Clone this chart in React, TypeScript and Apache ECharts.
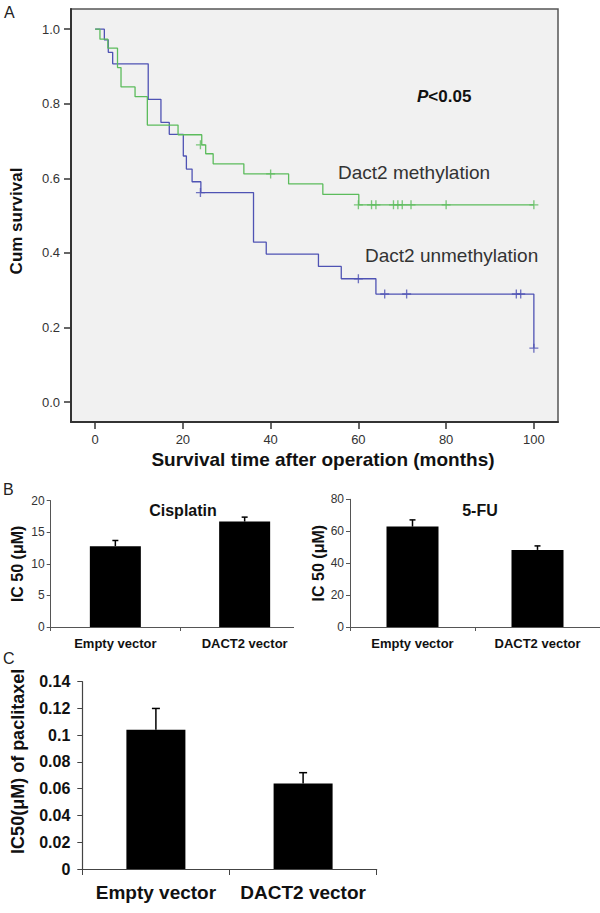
import React, { useEffect, useRef } from "react";
import * as echarts from "echarts";

// ---------- Panel A : Kaplan–Meier ----------
const kmXTicks = [0, 20, 40, 60, 80, 100];
const kmYTicks = [0, 0.2, 0.4, 0.6, 0.8, 1.0];
// step points [month, survival] : drop at month to survival
const methylCurve: [number, number][] = [
  [0, 1.0], [1.1, 0.973], [2.9, 0.949], [5.1, 0.897], [5.9, 0.845], [9.1, 0.819],
  [11.9, 0.743], [18.9, 0.717], [24.3, 0.69], [25.2, 0.666], [26.9, 0.639],
  [33.9, 0.612], [44.1, 0.585], [51.9, 0.557], [60.1, 0.529], [100, 0.529],
];
const unmethylCurve: [number, number][] = [
  [0, 1.0], [2.1, 0.971], [3.0, 0.938], [4.0, 0.907], [12.1, 0.812], [15.0, 0.75],
  [16.9, 0.718], [20.1, 0.66], [20.8, 0.625], [22.1, 0.591], [24.1, 0.562],
  [36.1, 0.429], [39.0, 0.397], [50.9, 0.364], [56.1, 0.331], [64.0, 0.29], [100, 0.145],
];
const methylCensored: [number, number][] = [
  [24, 0.69], [40, 0.612], [60, 0.529], [63, 0.529], [64, 0.529], [68, 0.529],
  [69, 0.529], [70, 0.529], [72, 0.529], [80, 0.529], [100, 0.529],
];
const unmethylCensored: [number, number][] = [
  [24, 0.562], [60, 0.331], [66, 0.29], [71, 0.29], [96, 0.29], [97, 0.29], [100, 0.145],
];

// ---------- Panel B / C : bar charts ----------
const vectorCats = ["Empty vector", "DACT2 vector"];
const cisplatinMean = [12.8, 16.7];
const cisplatinErr = [0.9, 0.7];
const fuMean = [62.9, 48.3];
const fuErr = [4.2, 2.5];
const paclitaxelMean = [0.104, 0.064];
const paclitaxelErr = [0.016, 0.008];

const FONT = '"Liberation Sans", Arial, sans-serif';
const GREEN = "#5cbc5c";
const BLUE = "#4f53b4";
const PLUS =
  "path://M4.25,0h1.5v4.25h4.25v1.5h-4.25v4.25h-1.5v-4.25h-4.25v-1.5h4.25z";

function errorSeries(idx: number, means: number[], errs: number[], cap: number) {
  return {
    type: "custom",
    xAxisIndex: idx,
    yAxisIndex: idx,
    z: 5,
    data: means.map((m, i) => [i, m, errs[i]]),
    encode: { x: 0, y: 1 },
    renderItem: (_p: any, api: any) => {
      const x = api.value(0);
      const m = api.value(1);
      const e = api.value(2);
      const p0 = api.coord([x, m]);
      const p1 = api.coord([x, m + e]);
      const st = { stroke: "#000", lineWidth: 1.5 };
      return {
        type: "group",
        children: [
          { type: "line", shape: { x1: p0[0], y1: p0[1], x2: p1[0], y2: p1[1] }, style: st },
          { type: "line", shape: { x1: p1[0] - cap, y1: p1[1], x2: p1[0] + cap, y2: p1[1] }, style: st },
        ],
      };
    },
  };
}

export default function App() {
  const ref = useRef<HTMLDivElement>(null);
  useEffect(() => {
    const chart = echarts.init(ref.current!, null, { renderer: "svg" });

    const barYAxisBase = (min: number, max: number, interval: number) => ({
      type: "value",
      min,
      max,
      interval,
      splitLine: { show: false },
      axisLine: { show: true, lineStyle: { color: "#555", width: 1 } },
      axisTick: { show: true, length: 4, lineStyle: { color: "#555" } },
    });

    const option: any = {
      animation: false,
      backgroundColor: "#fff",
      textStyle: { fontFamily: FONT },
      title: [
        {
          text: "Cisplatin",
          left: 178,
          top: 497,
          textAlign: "center",
          textStyle: { fontFamily: FONT, fontSize: 16, fontWeight: "bold", color: "#111" },
        },
        {
          text: "5-FU",
          left: 475,
          top: 497,
          textAlign: "center",
          textStyle: { fontFamily: FONT, fontSize: 16, fontWeight: "bold", color: "#111" },
        },
      ],
      grid: [
        {
          left: 69, top: 9, width: 489, height: 413,
          show: true, backgroundColor: "#f1f1f1", borderColor: "#555", borderWidth: 1.5,
        },
        { left: 50.7, top: 500.7, width: 258.6, height: 126.3 },
        { left: 350, top: 499.3, width: 264, height: 127.7 },
        { left: 82.3, top: 681.7, width: 294.4, height: 187.3 },
      ],
      xAxis: [
        {
          gridIndex: 0,
          type: "value",
          min: -5.5,
          max: 105.5,
          name: "Survival time after operation (months)",
          nameLocation: "middle",
          nameGap: 28,
          nameTextStyle: {
            fontFamily: FONT, fontSize: 19, fontWeight: "bold", color: "#111",
            padding: [0, 0, 0, 17],
          },
          splitLine: { show: false },
          axisLine: { show: true, onZero: false, lineStyle: { color: "#333", width: 2 } },
          axisTick: { show: true, length: 7, customValues: kmXTicks, lineStyle: { color: "#333", width: 1.5 } },
          axisLabel: { customValues: kmXTicks, margin: 11, fontSize: 13, color: "#333", fontFamily: FONT },
        },
        {
          gridIndex: 1,
          type: "category",
          data: vectorCats,
          axisLine: { lineStyle: { color: "#555" } },
          axisTick: { show: true, length: 4, lineStyle: { color: "#555" } },
          axisLabel: { interval: 0, margin: 10, fontSize: 13, fontWeight: "bold", color: "#111", fontFamily: FONT },
        },
        {
          gridIndex: 2,
          type: "category",
          data: vectorCats,
          axisLine: { lineStyle: { color: "#555" } },
          axisTick: { show: true, length: 4, lineStyle: { color: "#555" } },
          axisLabel: { interval: 0, margin: 10, fontSize: 13, fontWeight: "bold", color: "#111", fontFamily: FONT },
        },
        {
          gridIndex: 3,
          type: "category",
          data: vectorCats,
          axisLine: { lineStyle: { color: "#444", width: 1.2 } },
          axisTick: { show: true, length: 6, lineStyle: { color: "#444" } },
          axisLabel: { interval: 0, hideOverlap: false, margin: 14, fontSize: 19, fontWeight: "bold", color: "#111", fontFamily: FONT },
        },
      ],
      yAxis: [
        {
          gridIndex: 0,
          type: "value",
          min: -0.053,
          max: 1.054,
          name: "Cum survival",
          nameLocation: "middle",
          nameGap: 46,
          nameTextStyle: {
            fontFamily: FONT, fontSize: 17, fontWeight: "bold", color: "#111",
            padding: [0, 11, 0, 0],
          },
          splitLine: { show: false },
          axisLine: { show: true, onZero: false, lineStyle: { color: "#333", width: 2 } },
          axisTick: { show: true, length: 7, customValues: kmYTicks, lineStyle: { color: "#333", width: 1.5 } },
          axisLabel: {
            customValues: kmYTicks, margin: 11, fontSize: 13, color: "#333", fontFamily: FONT,
            formatter: (v: number) => v.toFixed(1),
          },
        },
        {
          gridIndex: 1,
          ...barYAxisBase(0, 20, 5),
          name: "IC 50 (μM)",
          nameLocation: "middle",
          nameGap: 25,
          nameTextStyle: { fontFamily: FONT, fontSize: 16, fontWeight: "bold", color: "#111" },
          axisLabel: { margin: 6, fontSize: 12, color: "#333", fontFamily: FONT },
        },
        {
          gridIndex: 2,
          ...barYAxisBase(0, 80, 20),
          name: "IC 50 (μM)",
          nameLocation: "middle",
          nameGap: 24,
          nameTextStyle: { fontFamily: FONT, fontSize: 16, fontWeight: "bold", color: "#111" },
          axisLabel: { margin: 6, fontSize: 12, color: "#333", fontFamily: FONT },
        },
        {
          gridIndex: 3,
          type: "value",
          min: 0,
          max: 0.14,
          interval: 0.02,
          name: "IC50(μM) of paclitaxel",
          nameLocation: "middle",
          nameGap: 55,
          nameTextStyle: {
            fontFamily: FONT, fontSize: 18, fontWeight: "bold", color: "#111",
            padding: [0, 0, 0, 28],
          },
          splitLine: { show: false },
          axisLine: { show: true, lineStyle: { color: "#444", width: 1.2 } },
          axisTick: { show: true, length: 5, lineStyle: { color: "#444" } },
          axisLabel: {
            margin: 12, fontSize: 16, fontWeight: "bold", color: "#111", fontFamily: FONT,
            formatter: (v: number) => String(Math.round(v * 100) / 100),
          },
        },
      ],
      series: [
        {
          type: "line",
          name: "Dact2 unmethylation",
          xAxisIndex: 0, yAxisIndex: 0,
          step: "end",
          symbol: "none",
          data: unmethylCurve,
          lineStyle: { color: BLUE, width: 1.3 },
        },
        {
          type: "line",
          name: "Dact2 methylation",
          xAxisIndex: 0, yAxisIndex: 0,
          step: "end",
          symbol: "none",
          data: methylCurve,
          lineStyle: { color: GREEN, width: 1.3 },
        },
        {
          type: "scatter",
          xAxisIndex: 0, yAxisIndex: 0,
          symbol: PLUS, symbolSize: 9,
          itemStyle: { color: BLUE },
          data: unmethylCensored,
        },
        {
          type: "scatter",
          xAxisIndex: 0, yAxisIndex: 0,
          symbol: PLUS, symbolSize: 9,
          itemStyle: { color: GREEN },
          data: methylCensored,
        },
        {
          type: "bar", xAxisIndex: 1, yAxisIndex: 1, barWidth: 51,
          itemStyle: { color: "#000" }, data: cisplatinMean,
        },
        errorSeries(1, cisplatinMean, cisplatinErr, 3),
        {
          type: "bar", xAxisIndex: 2, yAxisIndex: 2, barWidth: 52,
          itemStyle: { color: "#000" }, data: fuMean,
        },
        errorSeries(2, fuMean, fuErr, 3),
        {
          type: "bar", xAxisIndex: 3, yAxisIndex: 3, barWidth: 59,
          itemStyle: { color: "#000" }, data: paclitaxelMean,
        },
        errorSeries(3, paclitaxelMean, paclitaxelErr, 4),
      ],
      graphic: [
        { type: "text", x: 4, y: 12, style: { text: "A", font: `16px ${FONT}`, fill: "#222", textVerticalAlign: "middle" } },
        { type: "text", x: 3, y: 489, style: { text: "B", font: `16px ${FONT}`, fill: "#222", textVerticalAlign: "middle" } },
        { type: "text", x: 3, y: 658, style: { text: "C", font: `16px ${FONT}`, fill: "#222", textVerticalAlign: "middle" } },
        {
          type: "text", x: 417, y: 96, z: 10,
          style: {
            text: "{i|P}{b|<0.05}",
            textVerticalAlign: "middle",
            rich: {
              i: { fontFamily: FONT, fontSize: 17, fontWeight: "bold", fontStyle: "italic", fill: "#111" },
              b: { fontFamily: FONT, fontSize: 17, fontWeight: "bold", fill: "#111" },
            },
          },
        },
        { type: "text", x: 338, y: 172, z: 10, style: { text: "Dact2 methylation", font: `19px ${FONT}`, fill: "#333", textVerticalAlign: "middle" } },
        { type: "text", x: 365, y: 255, z: 10, style: { text: "Dact2 unmethylation", font: `19px ${FONT}`, fill: "#333", textVerticalAlign: "middle" } },
        { type: "rect", z: 100, shape: { x: 294, y: 622, width: 22, height: 10 }, style: { fill: "#fff" } },
      ],
    };
    chart.setOption(option);
    return () => chart.dispose();
  }, []);
  return (
    <div
      ref={ref}
      style={{ position: "fixed", left: 0, top: 0, width: 600, height: 913, background: "#fff" }}
    />
  );
}
